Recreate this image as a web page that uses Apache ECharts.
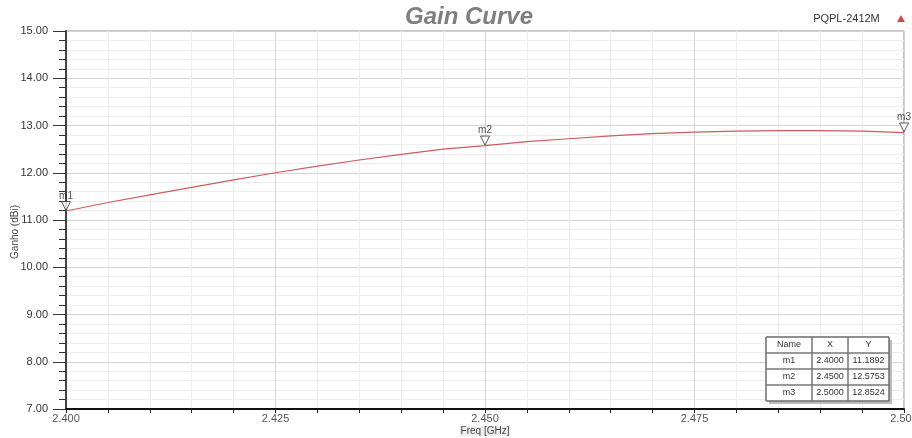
<!DOCTYPE html>
<html>
<head>
<meta charset="utf-8">
<script src="https://cdn.jsdelivr.net/npm/echarts@6/dist/echarts.min.js"></script>
<style>html,body{margin:0;padding:0;background:#fff;}#c{width:912px;height:438px;}</style>
</head>
<body>
<div id="c"></div>
<script>
// ---- data ----
var freq = [2.400, 2.405, 2.410, 2.415, 2.420, 2.425, 2.430, 2.435, 2.440, 2.445, 2.450,
            2.455, 2.460, 2.465, 2.470, 2.475, 2.480, 2.485, 2.490, 2.495, 2.500];
var gain = [11.19, 11.37, 11.53, 11.69, 11.85, 12.00, 12.14, 12.27, 12.39, 12.50, 12.575,
            12.66, 12.72, 12.78, 12.83, 12.86, 12.88, 12.89, 12.89, 12.88, 12.85];
var markerNames = ['m1', 'm2', 'm3'];
var markerX = [2.4000, 2.4500, 2.5000];
var markerY = [11.1892, 12.5753, 12.8524];
var tableHeader = ['Name', 'X', 'Y'];
var seriesName = 'PQPL-2412M';

var chart = echarts.init(document.getElementById('c'), null, {renderer: 'canvas'});

var lineData = freq.map(function (f, i) { return [f, gain[i]]; });
var markData = markerNames.map(function (n, i) { return {name: n, value: [markerX[i], markerY[i]]}; });

// table graphic
var tblLeft = 766, tblTop = 337, colW = [46, 36, 41], rowH = 16;
var tblW = colW[0] + colW[1] + colW[2];
var rows = [tableHeader].concat(markerNames.map(function (n, i) {
  return [n, markerX[i].toFixed(4), markerY[i].toFixed(4)];
}));
var tblChildren = [];
tblChildren.push({type: 'rect', shape: {x: tblLeft + 3, y: tblTop + 3, width: tblW, height: rowH * rows.length},
  style: {fill: '#bdbdbd'}, z: 100});
tblChildren.push({type: 'rect', shape: {x: tblLeft, y: tblTop, width: tblW, height: rowH * rows.length},
  style: {fill: '#fff', stroke: '#555', lineWidth: 1}, z: 101});
rows.forEach(function (r, ri) {
  var cx = tblLeft;
  r.forEach(function (cell, ci) {
    tblChildren.push({type: 'rect', shape: {x: cx, y: tblTop + ri * rowH, width: colW[ci], height: rowH},
      style: {fill: 'none', stroke: '#777', lineWidth: 1}, z: 102});
    tblChildren.push({type: 'text', x: cx + colW[ci] / 2, y: tblTop + ri * rowH + rowH / 2,
      style: {text: cell, fill: '#333', font: '9px "Liberation Sans", Arial, sans-serif',
        textAlign: 'center', textVerticalAlign: 'middle'}, z: 103});
    cx += colW[ci];
  });
});

var option = {
  backgroundColor: '#fff',
  animation: false,
  title: {
    text: 'Gain Curve', left: 400, top: 0,
    textStyle: {fontSize: 24, fontWeight: 'bold', fontStyle: 'italic', color: '#7f7f7f',
      fontFamily: '"Liberation Sans", Arial, sans-serif'}
  },
  legend: {
    data: [{name: seriesName, icon: 'triangle'}],
    right: 2, top: 8, align: 'right', itemWidth: 8, itemHeight: 7,
    formatter: function (n) { return n + '    '; },
    textStyle: {fontSize: 11, color: '#333', fontFamily: '"Liberation Sans", Arial, sans-serif'}
  },
  grid: {left: 66, right: 8, top: 31, bottom: 29, show: true, borderColor: '#888', borderWidth: 1,
    containLabel: false, outerBoundsMode: 'none'},
  xAxis: {
    type: 'value', min: 2.4, max: 2.5, interval: 0.025,
    name: 'Freq [GHz]', nameLocation: 'middle', nameGap: 17, nameMoveOverlap: false,
    nameTextStyle: {fontSize: 10, color: '#444', fontFamily: '"Liberation Sans", Arial, sans-serif',
      backgroundColor: '#eee', padding: [0, 1]},
    axisLine: {lineStyle: {color: '#111', width: 2}},
    axisTick: {show: true, length: 4, lineStyle: {color: '#222'}},
    minorTick: {show: true, splitNumber: 5, length: 4, lineStyle: {color: '#222'}},
    splitLine: {show: true, lineStyle: {color: '#d4d4d4'}},
    minorSplitLine: {show: true, lineStyle: {color: '#ededed'}},
    axisLabel: {
      formatter: function (v) { return v.toFixed(3); }, margin: 4,
      fontSize: 11, color: '#555', fontFamily: '"Liberation Sans", Arial, sans-serif',
      showMinLabel: true, showMaxLabel: true, hideOverlap: false
    }
  },
  yAxis: {
    type: 'value', min: 7, max: 15, interval: 1,
    name: 'Ganho (dBi)', nameLocation: 'middle', nameGap: 46, nameRotate: 90, nameMoveOverlap: false,
    nameTextStyle: {fontSize: 10, color: '#444', fontFamily: '"Liberation Sans", Arial, sans-serif',
      padding: [0, 24, 0, 0]},
    axisLine: {show: true, lineStyle: {color: '#444', width: 2}},
    axisTick: {show: true, length: 13, lineStyle: {color: '#333'}},
    minorTick: {show: true, splitNumber: 5, length: 7, lineStyle: {color: '#333'}},
    splitLine: {show: true, lineStyle: {color: '#d4d4d4'}},
    minorSplitLine: {show: true, lineStyle: {color: '#ededed'}},
    axisLabel: {
      formatter: function (v) { return v.toFixed(2); }, margin: 18,
      fontSize: 11, color: '#333', fontFamily: '"Liberation Sans", Arial, sans-serif'
    }
  },
  series: [
    {
      name: seriesName, type: 'line', data: lineData, showSymbol: false, symbol: 'none',
      lineStyle: {color: '#cd5c5c', width: 1.2}, itemStyle: {color: '#c0504d'}, z: 5
    },
    {
      name: 'markers', type: 'scatter', data: markData, clip: false,
      symbol: 'triangle', symbolRotate: 180, symbolSize: 9, symbolOffset: [0, -5],
      itemStyle: {color: '#fff', borderColor: '#333', borderWidth: 1},
      label: {show: true, position: 'top', distance: 0, formatter: '{b}', fontSize: 10, color: '#222',
        fontFamily: '"Liberation Sans", Arial, sans-serif'},
      z: 6
    }
  ],
  graphic: [{type: 'group', children: tblChildren}]
};
chart.setOption(option);
</script>
</body>
</html>
